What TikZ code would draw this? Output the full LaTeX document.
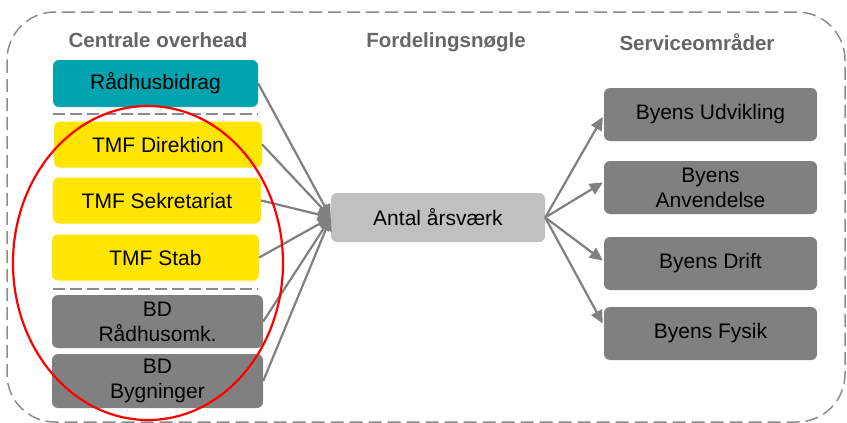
\documentclass[tikz,border=0pt]{standalone}
\usepackage{fontspec}
\setmainfont{Liberation Sans}
\usetikzlibrary{arrows.meta,calc}
\definecolor{tealbox}{HTML}{00A3AE}
\definecolor{yellowbox}{HTML}{FFE500}
\definecolor{darkbox}{HTML}{808080}
\definecolor{lightbox}{HTML}{C0C0C0}
\definecolor{connc}{HTML}{808080}
\definecolor{headc}{HTML}{666666}
\definecolor{frame}{HTML}{8C8C8C}
\begin{document}
\begin{tikzpicture}[x=1pt,y=-1pt,
  box/.style={rounded corners=6pt, inner sep=0pt, align=center,
    font=\fontsize{21}{25}\selectfont, text=black},
  lbox/.style={box, minimum width=207pt, minimum height=46pt},
  rbox/.style={box, fill=darkbox, minimum width=213pt, minimum height=53pt},
  head/.style={font=\fontsize{20.5}{24}\selectfont\bfseries, text=headc},
  conn/.style={draw=connc, line width=2.2pt},
  arr/.style={conn, -{Triangle[length=13pt,width=12pt]}},
  sep/.style={draw=frame, line width=1.8pt, dash pattern=on 12pt off 5pt}
]
\useasboundingbox (0,0) rectangle (847,423);
% outer frame
\draw[draw=frame, line width=1.5pt, dash pattern=on 13pt off 6pt, rounded corners=48pt]
  (7,12) rectangle (845,422);
% headers
\node[head] (h1) at (158,40) {Centrale overhead};
\node[head] (h2) at (446,42) {Fordelingsnøgle};
\node[head] (h3) at (697,42) {Serviceområder};
% left boxes
\node[lbox, fill=tealbox, minimum width=205pt, minimum height=47pt] (rad) at (155.5,83.5) {Rådhusbidrag};
\node[lbox, fill=yellowbox, minimum width=208pt] (dir) at (158,144.5) {TMF Direktion};
\node[lbox, fill=yellowbox, minimum width=208pt] (sek) at (157,200.5) {TMF Sekretariat};
\node[lbox, fill=yellowbox] (stab) at (155.5,257.5) {TMF Stab};
\node[lbox, fill=darkbox, minimum width=211pt, minimum height=53pt] (bdr) at (157.5,321.5) {BD\\Rådhusomk.};
\node[lbox, fill=darkbox, minimum width=211pt, minimum height=54pt] (bdb) at (157.5,381) {BD\\Bygninger};
% separators
\coordinate (s1a) at (53,114); \coordinate (s1b) at (258,114);
\coordinate (s2a) at (53,289); \coordinate (s2b) at (258,289);
\draw[sep] (s1a) -- (s1b);
\draw[sep] (s2a) -- (s2b);
% center
\node[box, fill=lightbox, minimum width=214pt, minimum height=49pt] (c) at (438,217.5) {Antal årsværk};
% right boxes
\node[rbox] (udv) at (710.5,114.5) {Byens Udvikling};
\node[rbox] (anv) at (710.5,187.5) {Byens\\Anvendelse};
\node[rbox] (dri) at (710.5,263.5) {Byens Drift};
\node[rbox] (fys) at (710.5,333.5) {Byens Fysik};
% connectors left
\foreach \n in {rad,dir,sek,stab,bdr,bdb}
  \draw[arr] (\n.east) -- (c.west);
% connectors right
\draw[arr] (c.east) -- ($(udv.west)+(-1,2.5)$);
\draw[arr] (c.east) -- ($(anv.west)+(-1,-5)$);
\draw[arr] (c.east) -- ($(dri.west)+(-1,-3)$);
\draw[arr] (c.east) -- ($(fys.west)+(-1,-10)$);
% red ellipse
\draw[red, line width=2.2pt] (148,263) ellipse [x radius=135, y radius=157];
\end{tikzpicture}
\end{document}
